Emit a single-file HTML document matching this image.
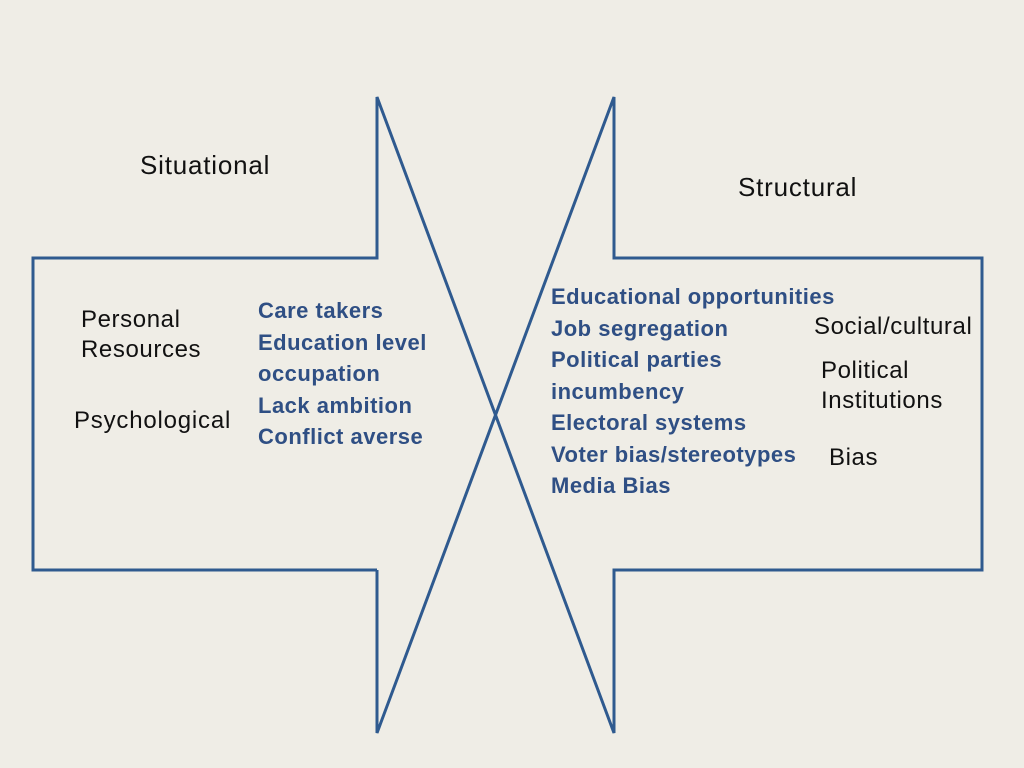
<!DOCTYPE html>
<html><head><style>
body{margin:0;width:1024px;height:768px;background:#efede6;position:relative;overflow:hidden;font-family:"Liberation Sans",sans-serif}
.t{position:absolute;font-size:24px;color:#111;line-height:30px;letter-spacing:0.6px;white-space:nowrap}
.b{position:absolute;font-size:22px;font-weight:bold;color:#2f4f84;line-height:31.5px;letter-spacing:0.5px;white-space:nowrap}
</style></head><body>
<svg width="1024" height="768" style="position:absolute;left:0;top:0">
<g fill="none" stroke="#2f5a8f" stroke-width="3" stroke-linejoin="miter">
<polyline points="377,570 33,570 33,258 377,258 377,97 614,733 614,570 982,570 982,258 614,258 614,97 377,733 377,570"/>
</g>
</svg>
<div class="t" style="left:140px;top:150px;font-size:26px;letter-spacing:0.8px">Situational</div>
<div class="t" style="left:738px;top:172px;font-size:26px;letter-spacing:0.8px">Structural</div>
<div class="t" style="left:81px;top:305px">Personal<br>Resources</div>
<div class="t" style="left:74px;top:406px;letter-spacing:0.8px">Psychological</div>
<div class="b" style="left:258px;top:295px">Care takers<br>Education level<br>occupation<br>Lack ambition<br>Conflict averse</div>
<div class="b" style="left:551px;top:281px">Educational opportunities<br>Job segregation<br>Political parties<br>incumbency<br>Electoral systems<br>Voter bias/stereotypes<br>Media Bias</div>
<div class="t" style="left:814px;top:312px">Social/cultural</div>
<div class="t" style="left:821px;top:356px">Political<br>Institutions</div>
<div class="t" style="left:829px;top:443px">Bias</div>
</body></html>
